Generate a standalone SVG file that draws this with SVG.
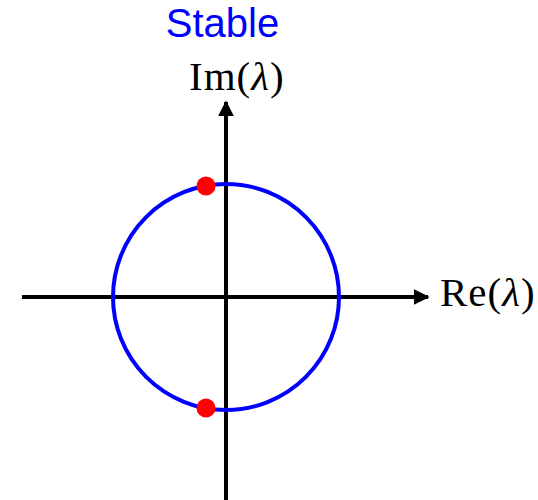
<svg xmlns="http://www.w3.org/2000/svg" width="538" height="500" viewBox="0 0 538 500">
<style>
.axis{stroke:#000;stroke-width:4;fill:none}
.lbl{font-family:"Liberation Serif","DejaVu Serif",serif;font-size:41px;letter-spacing:1px;fill:#000}
.title{font-family:"Liberation Sans",Arial,sans-serif;font-size:40px;fill:#0000ff}
.dot{fill:#ff0000}
</style>
<defs>
<marker id="arr" viewBox="0 0 10 10" refX="9" refY="5" markerWidth="4" markerHeight="4" orient="auto" markerUnits="strokeWidth">
<path d="M0,0 L10,5 L0,10 z" fill="#000"/>
</marker>
</defs>
<rect width="538" height="500" fill="#fff"/>
<g id="connectors">
<line class="axis" x1="22" y1="297" x2="428" y2="297" marker-end="url(#arr)"/>
<line class="axis" x1="226" y1="500" x2="226" y2="102" marker-end="url(#arr)"/>
</g>
<g id="unit-circle">
<circle cx="226" cy="297" r="113" fill="none" stroke="#0000ff" stroke-width="4"/>
</g>
<g id="eigenvalue-top"><circle class="dot" cx="206" cy="186" r="9.5"/></g>
<g id="eigenvalue-bottom"><circle class="dot" cx="206" cy="408" r="9.5"/></g>
<g id="title"><text class="title" x="222.5" y="37" text-anchor="middle">Stable</text></g>
<g id="im-label"><text class="lbl" x="189" y="90"><tspan>Im(</tspan><tspan font-style="italic">λ</tspan><tspan>)</tspan></text></g>
<g id="re-label"><text class="lbl" x="440" y="306"><tspan>Re(</tspan><tspan font-style="italic">λ</tspan><tspan>)</tspan></text></g>
</svg>
